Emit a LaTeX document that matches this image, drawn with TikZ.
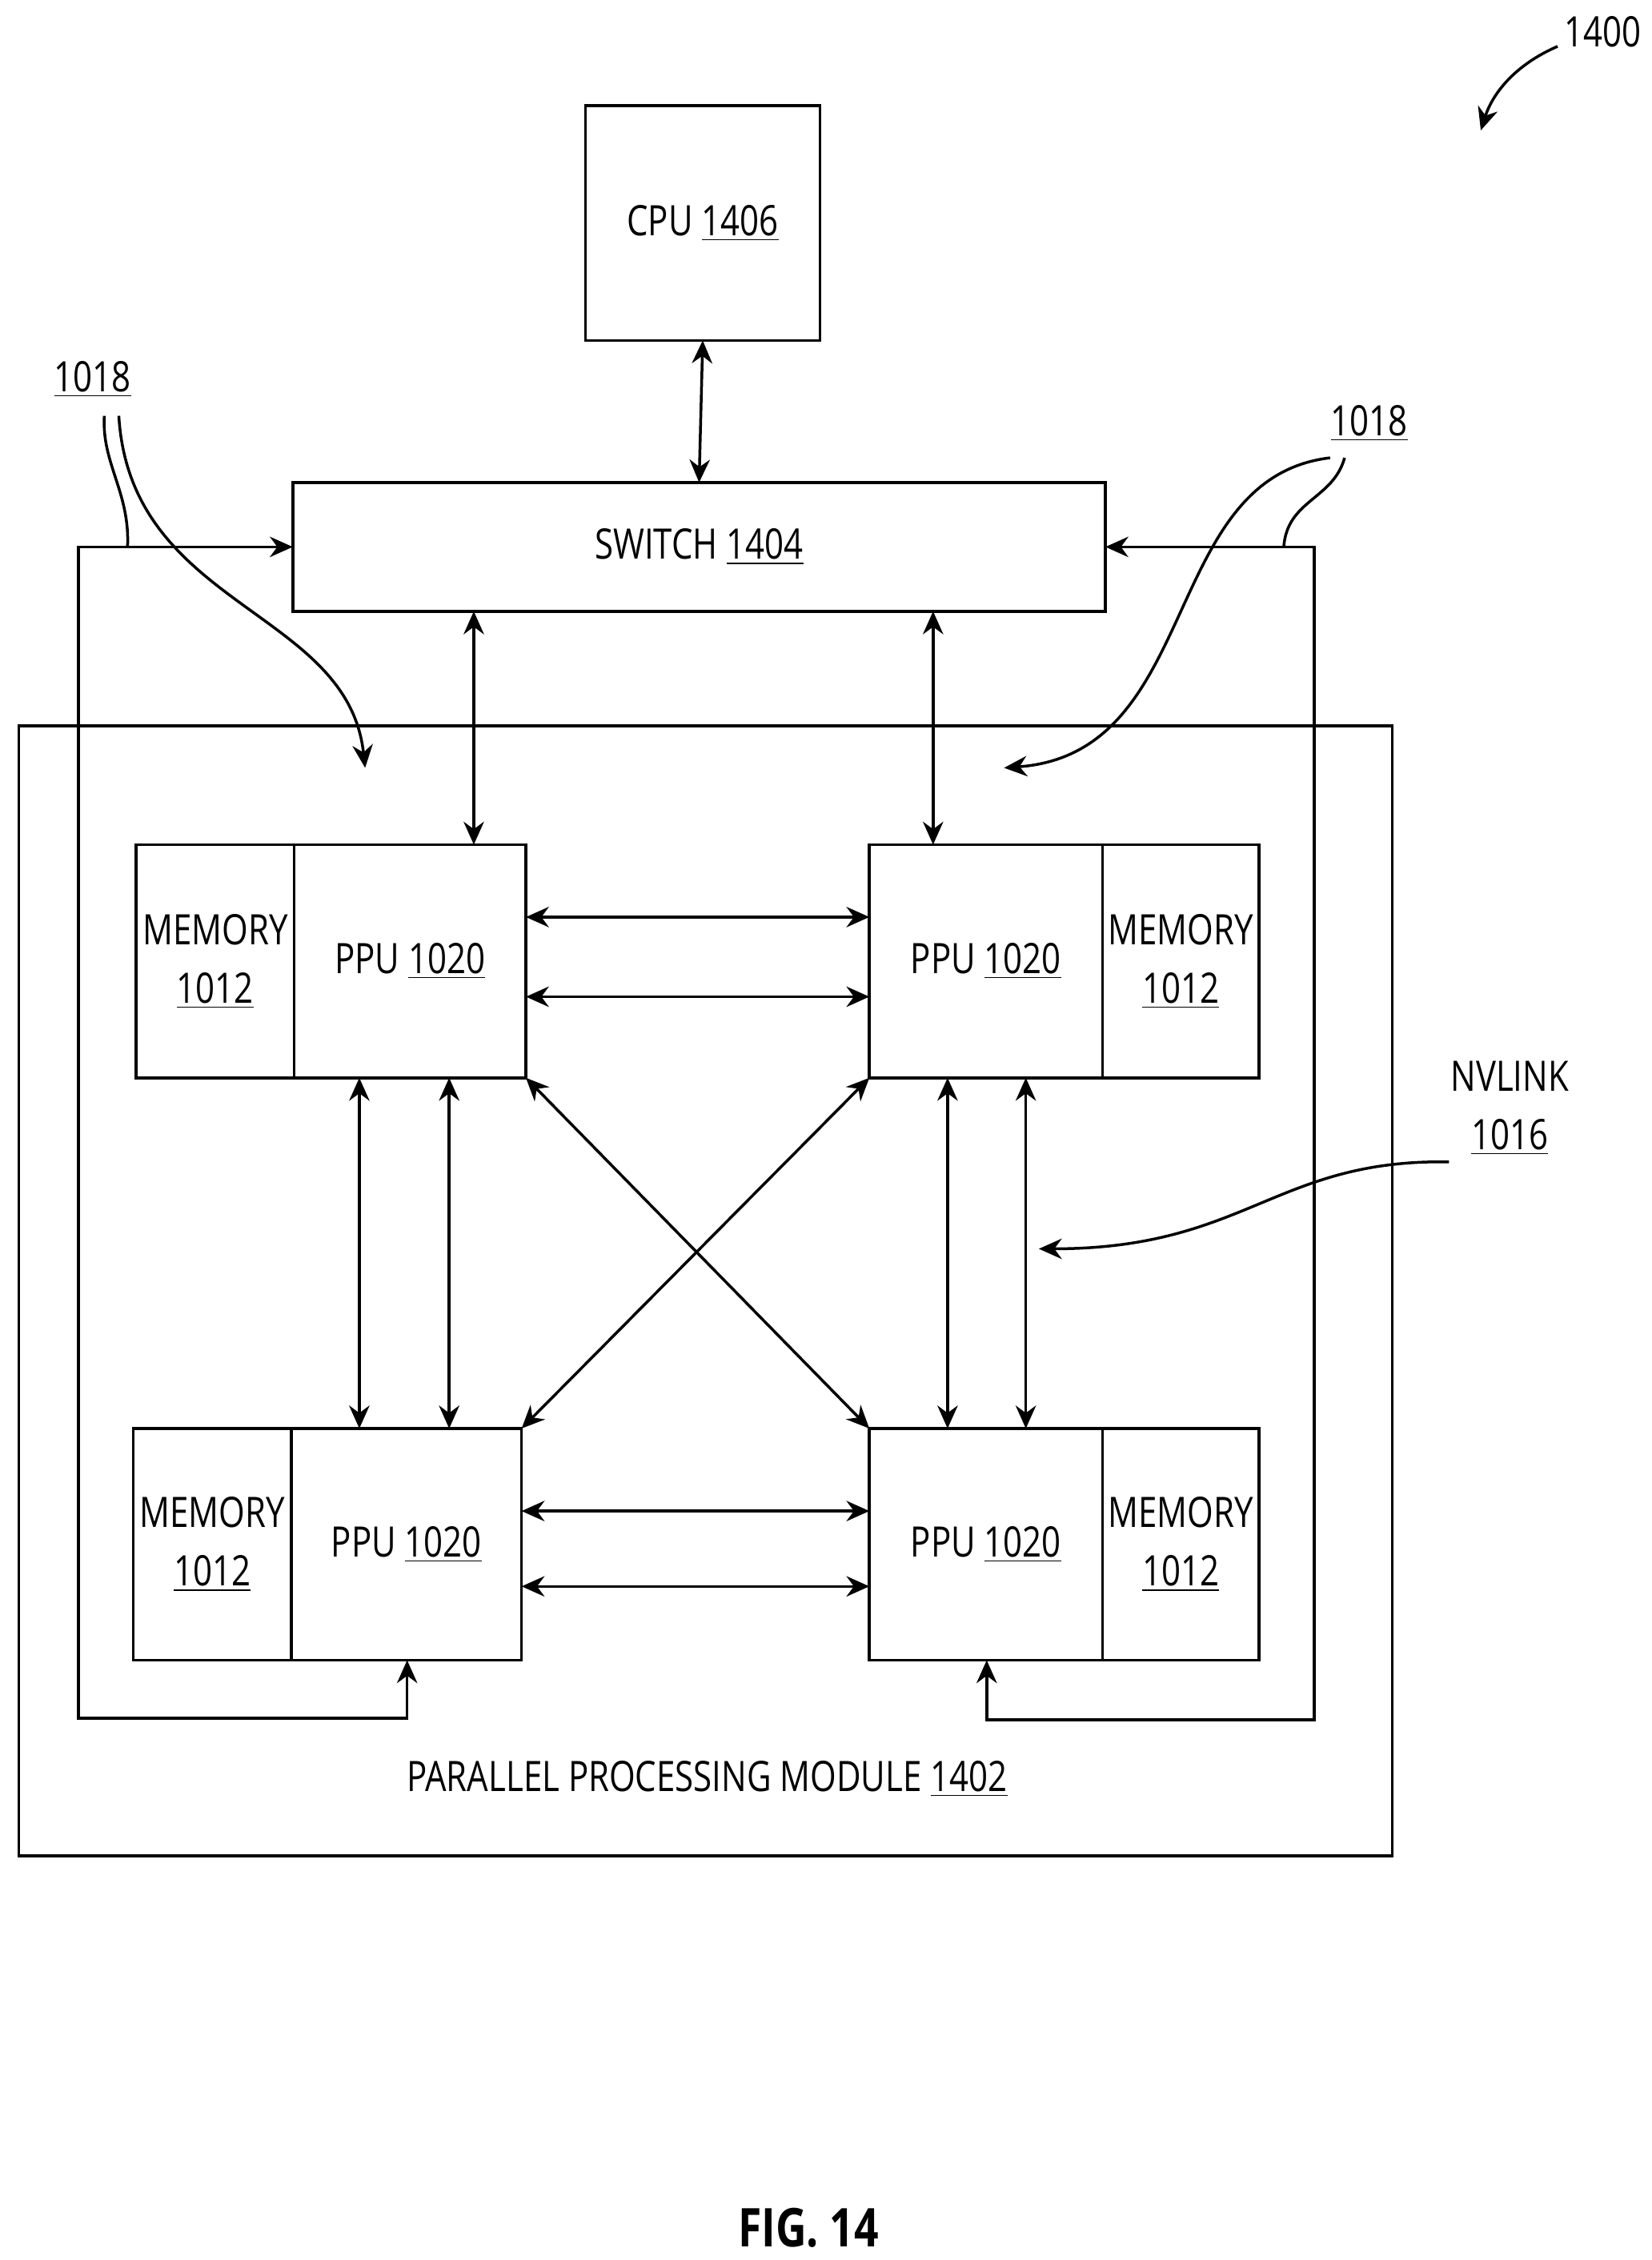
\documentclass[tikz,border=0pt]{standalone}
\usepackage{fontspec}
\setmainfont{Open Sans}[FakeStretch=0.8]
\usetikzlibrary{arrows.meta}
\tikzset{
  box/.style={draw, line width=1.1pt, inner sep=0pt, outer sep=0pt, align=center, font=\fontsize{16.5}{23}\selectfont},
  biarrow/.style={line width=1.1pt, {Stealth[length=9pt,width=8pt]}-{Stealth[length=9pt,width=8pt]}},
  lead/.style={line width=1.1pt},
  leadarrow/.style={line width=1.1pt, -{Stealth[length=9pt,width=8pt]}},
  lbl/.style={font=\fontsize{16.5}{23}\selectfont, align=center}
}
\begin{document}
\begin{tikzpicture}[x=0.02cm,y=-0.02cm]
    \useasboundingbox (0,0) rectangle (1140,1560);

    % Outer module
    \node[box, minimum width=18.96cm, minimum height=15.6cm] (ppm) at (487,891) {};
    \node[lbl] (ppmlabel) at (488,1228) {PARALLEL PROCESSING MODULE \underline{1402}};

    % CPU and switch
    \node[box, minimum width=3.24cm, minimum height=3.24cm] (cpu) at (485,154) {CPU \underline{1406}};
    \node[box, minimum width=11.22cm, minimum height=1.78cm] (switch) at (482.5,377.5) {SWITCH \underline{1404}};

    % PPUs and memories
    \node[box, minimum width=3.2cm, minimum height=3.22cm] (ppuTL) at (283,663.5) {PPU \underline{1020}};
    \node[box, minimum width=2.18cm, minimum height=3.22cm, anchor=east] (memTL) at (ppuTL.west) {MEMORY\\\underline{1012}};
    \node[box, minimum width=3.22cm, minimum height=3.22cm] (ppuTR) at (680.5,663.5) {PPU \underline{1020}};
    \node[box, minimum width=2.16cm, minimum height=3.22cm, anchor=west] (memTR) at (ppuTR.east) {MEMORY\\\underline{1012}};
    \node[box, minimum width=3.18cm, minimum height=3.2cm] (ppuBL) at (280.5,1066) {PPU \underline{1020}};
    \node[box, minimum width=2.18cm, minimum height=3.2cm, anchor=east] (memBL) at (ppuBL.west) {MEMORY\\\underline{1012}};
    \node[box, minimum width=3.22cm, minimum height=3.2cm] (ppuBR) at (680.5,1066) {PPU \underline{1020}};
    \node[box, minimum width=2.16cm, minimum height=3.2cm, anchor=west] (memBR) at (ppuBR.east) {MEMORY\\\underline{1012}};

    % Links to switch
    \draw[biarrow] (cpu.south) -- (switch.north);
    \draw[biarrow] (switch.south -| 327,0) -- (ppuTL.north -| 327,0);
    \draw[biarrow] (switch.south -| 644,0) -- (ppuTR.north -| 644,0);

    % NVLinks between PPUs
    \draw[biarrow] (ppuTL.east |- 0,633) -- (ppuTR.west |- 0,633);
    \draw[biarrow] (ppuTL.east |- 0,688) -- (ppuTR.west |- 0,688);
    \draw[biarrow] (ppuBL.east |- 0,1043) -- (ppuBR.west |- 0,1043);
    \draw[biarrow] (ppuBL.east |- 0,1095) -- (ppuBR.west |- 0,1095);
    \draw[biarrow] (ppuTL.south -| 248,0) -- (ppuBL.north -| 248,0);
    \draw[biarrow] (ppuTL.south -| 310,0) -- (ppuBL.north -| 310,0);
    \draw[biarrow] (ppuTR.south -| 654,0) -- (ppuBR.north -| 654,0);
    \draw[biarrow] (ppuTR.south -| 708,0) -- (ppuBR.north -| 708,0);
    \draw[biarrow] (ppuTL.south east) -- (ppuBR.north west);
    \draw[biarrow] (ppuTR.south west) -- (ppuBL.north east);

    % Loops back to switch
    \draw[biarrow] (switch.west) -- (54,377.5) -- (54,1186) -- (281,1186) -- (ppuBL.south -| 281,0);
    \draw[biarrow] (switch.east) -- (907,377.5) -- (907,1187) -- (681,1187) -- (ppuBR.south -| 681,0);

    % Reference labels
    \node[lbl] (ref1400) at (1106,22) {1400};
    \draw[leadarrow] (1075,32) .. controls (1045,45) and (1030,65) .. (1022,90);

    \node[lbl] (refL) at (64,262) {\underline{1018}};
    \draw[lead] (72,287) .. controls (70,320) and (90,340) .. (88,378);
    \draw[leadarrow] (82,287) .. controls (90,420) and (240,420) .. (252,530);

    \node[lbl] (refR) at (945,292) {\underline{1018}};
    \draw[lead] (928,316) .. controls (920,345) and (888,345) .. (886,378);
    \draw[leadarrow] (918,316) .. controls (800,330) and (830,520) .. (693,530);

    \node[lbl] (refNV) at (1042,765) {NVLINK\\\underline{1016}};
    \draw[leadarrow] (1000,802) .. controls (880,800) and (860,862) .. (717,862);

    \node[font=\bfseries\fontsize{21}{26}\selectfont] (fig) at (558,1538) {FIG. 14};
\end{tikzpicture}
\end{document}
